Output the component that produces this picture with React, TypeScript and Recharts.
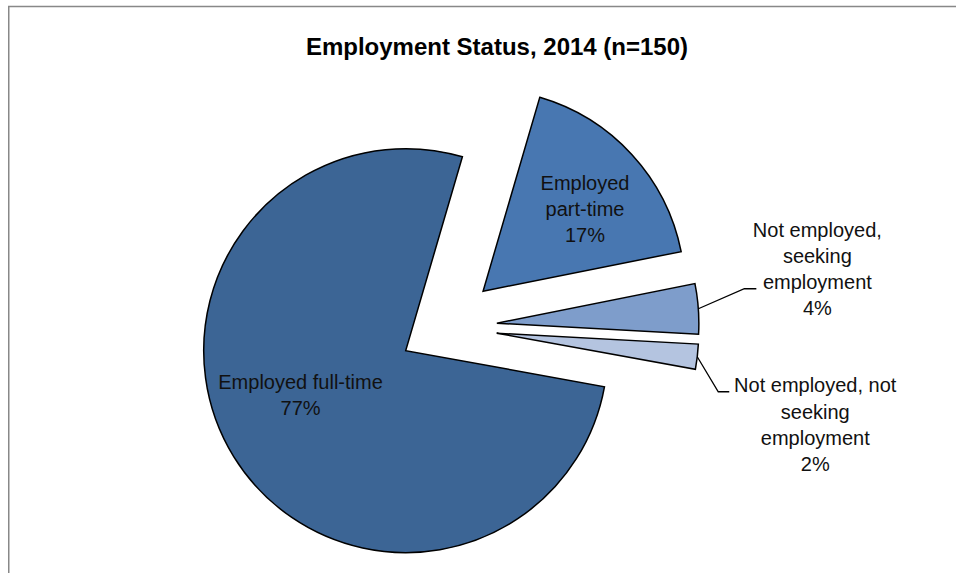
import { PieChart, Pie, Cell } from "recharts";

const title = "Employment Status, 2014 (n=150)";
const categories = [
  "Employed full-time",
  "Employed part-time",
  "Not employed, seeking employment",
  "Not employed, not seeking employment",
];
const counts = [115, 26, 6, 3];
// how each category label wraps in the chart
const labelRows = [
  ["Employed full-time"],
  ["Employed", "part-time"],
  ["Not employed,", "seeking", "employment"],
  ["Not employed, not", "seeking", "employment"],
];
const colors = ["#3c6595", "#4877b1", "#7e9dcb", "#b4c4e0"];

const total = counts.reduce((a, b) => a + b, 0);
const data = categories.map((name, i) => ({ name, value: counts[i] }));

const W = 956;
const H = 573;
const CENTER = { x: 444, y: 327 };
const R = 202;
const START = -10.3;
const explode = [45, 53, 53, 53];
const FONT = "'Liberation Sans', Arial, sans-serif";
const LH = 26;

const RAD = Math.PI / 180;
const polar = (cx: number, cy: number, r: number, a: number) => ({
  x: cx + r * Math.cos(a * RAD),
  y: cy - r * Math.sin(a * RAD),
});

// mid angle of each slice, to push it out from the centre
const mids = counts.map((v, i) => {
  const before = counts.slice(0, i).reduce((a, b) => a + b, 0);
  return START - (360 * (before + v / 2)) / total;
});

const pct = (i: number) => `${Math.round((counts[i] / total) * 100)}%`;

function Lines({ x, ys, rows }: { x: number; ys: number[]; rows: string[] }) {
  return (
    <g>
      {rows.map((t, i) => (
        <text
          key={i}
          x={x}
          y={ys[i]}
          textAnchor="middle"
          dominantBaseline="central"
          fontFamily={FONT}
          fontSize={20}
          fill="#111"
        >
          {t}
        </text>
      ))}
    </g>
  );
}

const renderLabel = (k: number) => (props: any) => {
  if (props.index !== k) return null;
  const cx = props.cx;
  const cy = props.cy;
  const mid = props.midAngle;
  const rows = [...labelRows[k], pct(k)];

  if (k === 0 || k === 1) {
    const p = k === 0 ? polar(cx, cy, 114, mid - 9) : polar(cx, cy, 131, mid - 3.6);
    const ys = rows.map((_, i) => p.y + (i - (rows.length - 1) / 2) * LH);
    return <Lines x={p.x} ys={ys} rows={rows} />;
  }

  const p0 = polar(cx, cy, props.outerRadius, mid);
  const bend = k === 2 ? { dx: 46, dy: -20 } : { dx: 21, dy: 35 };
  const p1 = { x: p0.x + bend.dx, y: p0.y + bend.dy };
  const p2 = { x: p1.x + (k === 2 ? 12 : 11), y: p1.y };
  const tx = p2.x + (k === 2 ? 61 : 86);
  const offs = k === 2 ? [-59, -33, -7, 19] : [-7, 20, 46, 72];
  return (
    <g>
      <polyline
        points={`${p0.x},${p0.y} ${p1.x},${p1.y} ${p2.x},${p2.y}`}
        fill="none"
        stroke="#000"
        strokeWidth={1.3}
      />
      <Lines x={tx} ys={offs.map((o) => p2.y + o)} rows={rows} />
    </g>
  );
};

export default function App() {
  return (
    <div style={{ position: "fixed", left: 0, top: 0, width: W, height: H, overflow: "hidden", background: "#fff" }}>
      <svg width={W} height={H} style={{ position: "absolute", left: 0, top: 0 }}>
        <line x1={8.75} y1={6} x2={8.75} y2={H} stroke="#888" strokeWidth={1.5} />
        <line x1={8} y1={6.5} x2={W} y2={6.5} stroke="#888" strokeWidth={1.5} />
        <text x={497} y={55} textAnchor="middle" fontFamily={FONT} fontWeight="bold" fontSize={24} fill="#000">
          {title}
        </text>
      </svg>
      <div style={{ position: "absolute", left: 0, top: 0 }}>
        <PieChart width={W} height={H} margin={{ top: 0, right: 0, bottom: 0, left: 0 }}>
          {data.map((_, k) => (
            <Pie
              key={k}
              data={data}
              dataKey="value"
              nameKey="name"
              cx={CENTER.x + explode[k] * Math.cos(mids[k] * RAD)}
              cy={CENTER.y - explode[k] * Math.sin(mids[k] * RAD)}
              outerRadius={R}
              innerRadius={0}
              startAngle={START}
              endAngle={START - 360}
              paddingAngle={0}
              isAnimationActive={false}
              label={renderLabel(k)}
              labelLine={false}
            >
              {data.map((_, i) => (
                <Cell
                  key={i}
                  fill={i === k ? colors[i] : "none"}
                  stroke={i === k ? "#000" : "none"}
                  strokeWidth={1.5}
                />
              ))}
            </Pie>
          ))}
        </PieChart>
      </div>
    </div>
  );
}
